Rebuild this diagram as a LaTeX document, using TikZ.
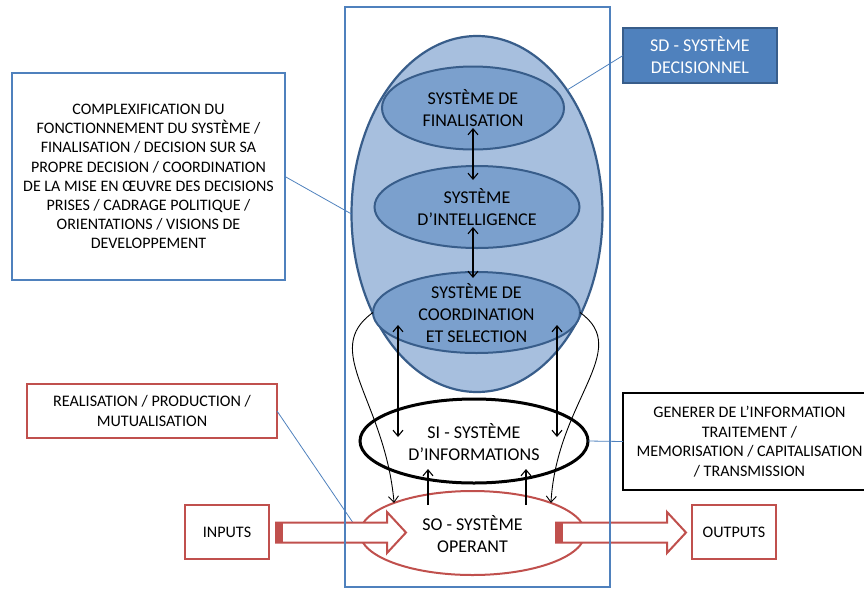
\documentclass[tikz,border=0pt]{standalone}
\usepackage{fontspec}
\setmainfont{Carlito}
\usetikzlibrary{shapes.geometric,arrows.meta,calc}
\definecolor{bl}{HTML}{4F81BD}
\definecolor{dbl}{HTML}{385D8A}
\definecolor{lfill}{HTML}{A7BFDE}
\definecolor{mfill}{HTML}{7BA0CD}
\definecolor{rd}{HTML}{C0504D}
\newcommand\elfont{\fontsize{18}{22}\selectfont}
\newcommand\boxfont{\fontsize{16.1}{19.5}\selectfont}
\begin{document}
\begin{tikzpicture}[x=1pt,y=-1pt,
  every node/.style={inner sep=0pt,outer sep=0pt},
  bigell/.style={ellipse,draw=dbl,line width=2.2pt,fill=lfill},
  subell/.style={ellipse,draw=dbl,line width=2pt,fill=mfill},
  eltext/.style={font=\elfont,align=center,text=black},
  boxnode/.style={rectangle,align=center,font=\boxfont,line width=2.2pt,fill=white,text=black},
  conn/.style={draw=bl,line width=0.8pt},
  barb/.tip={Straight Barb[length=6pt,width=10pt]},
  dblarr/.style={line width=1.1pt,barb-barb},
  onearr/.style={line width=1.1pt,-barb},
  blockarr/.style={draw=rd,line width=2pt,fill=white,line join=miter}
]
\useasboundingbox (0,0) rectangle (864,590);

% decision system
\node[bigell,minimum width=251pt,minimum height=356pt] (sd) at (477,214) {};
\node[subell,minimum width=182pt,minimum height=83pt,label={[eltext]center:SYSTÈME DE\\FINALISATION}] (fin) at (473,108) {};
\node[subell,minimum width=205pt,minimum height=82pt,label={[eltext]center:SYSTÈME\\D’INTELLIGENCE}] (int) at (477,207) {};
\node[subell,minimum width=207pt,minimum height=81pt,label={[eltext,yshift=-1pt]center:SYSTÈME DE\\COORDINATION\\ET SELECTION}] (co) at (476.5,312.5) {};

\draw[dblarr] ($(fin)+(0,20)$) -- ($(int)+(-4,-27)$);
\draw[dblarr] ($(int)+(-4,20)$) -- ($(co)+(-3.5,-34.5)$);

% information and operating systems
\node[ellipse,draw=black,line width=3pt,fill=white,minimum width=228pt,minimum height=84pt,label={[eltext,yshift=-1pt]center:SI - SYSTÈME\\D’INFORMATIONS}] (si) at (474,441) {};
\node[ellipse,draw=rd,line width=2pt,fill=white,minimum width=225pt,minimum height=84pt,label={[eltext,yshift=-1pt]center:SO - SYSTÈME\\OPERANT}] (so) at (472.5,533) {};

\draw[dblarr] ($(co)+(-78.5,12.5)$) -- ($(si)+(-76,-4)$);
\draw[dblarr] ($(co)+(80.5,12.5)$) -- ($(si)+(83,-4)$);
\draw[onearr] ($(so)+(-44.5,-28)$) -- ($(si)+(-46,28)$);
\draw[onearr] ($(so)+(53.5,-28)$) -- ($(si)+(52,28)$);

\draw[onearr,line width=0.9pt] (co.west) .. controls (320,350) and (385,400) .. (so.159);
\draw[onearr,line width=0.9pt] (co.east) .. controls (633,350) and (557,400) .. (so.21);

% side boxes
\node[boxnode,draw=bl,minimum width=273pt,minimum height=207pt,font=\fontsize{16}{19.1}\selectfont] (lbox) at (148.5,176.5)
 {COMPLEXIFICATION DU\\FONCTIONNEMENT DU SYSTÈME /\\FINALISATION / DECISION SUR SA\\PROPRE DECISION / COORDINATION\\DE LA MISE EN ŒUVRE DES DECISIONS\\PRISES / CADRAGE POLITIQUE /\\ORIENTATIONS / VISIONS DE\\DEVELOPPEMENT};
\node[rectangle,draw=dbl,fill=bl,line width=2pt,minimum width=154pt,minimum height=55pt,align=center,font=\elfont,text=white] (sdbox) at (700,55.5) {SD - SYSTÈME\\DECISIONNEL};
\node[boxnode,draw=rd,minimum width=250pt,minimum height=54pt] (rbox) at (152,411) {REALISATION / PRODUCTION /\\MUTUALISATION};
\node[boxnode,draw=rd,minimum width=84pt,minimum height=54pt] (inbox) at (227,532) {INPUTS};
\node[boxnode,draw=rd,minimum width=84pt,minimum height=54pt] (outbox) at (734,532) {OUTPUTS};
\node[boxnode,draw=black,minimum width=253pt,minimum height=97pt] (gbox) at (749.5,441.5) {GENERER DE L’INFORMATION\\TRAITEMENT /\\MEMORISATION / CAPITALISATION\\/ TRANSMISSION};

% connectors of the side boxes
\draw[conn] (lbox.east) -- (sd.west);
\draw[conn] (sdbox.west) -- (sd.54.5);
\draw[conn] (gbox.west) -- (si.east);
\draw[conn] (rbox.east) -- (so.west);

% block arrows
\draw[blockarr] (276,522.5) -- (387,522.5) -- (387,512) -- (406,532.5) -- (387,553) -- (387,542.5) -- (276,542.5) -- cycle;
\fill[rd] (276,522.5) rectangle (283,542.5);
\draw[blockarr] (556,522.5) -- (667,522.5) -- (667,512) -- (686,532.5) -- (667,553) -- (667,542.5) -- (556,542.5) -- cycle;
\fill[rd] (556,522.5) rectangle (563,542.5);

% frame
\node[rectangle,draw=bl,line width=2pt,minimum width=265pt,minimum height=580pt] (frame) at (477.5,297) {};
\end{tikzpicture}
\end{document}
